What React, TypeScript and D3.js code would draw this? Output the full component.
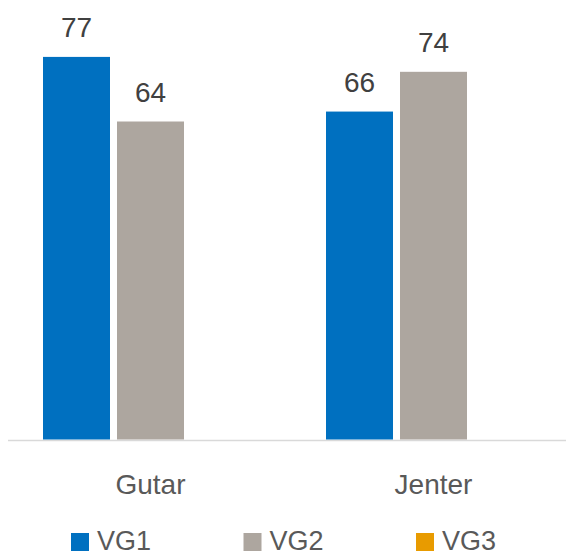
import React, { useEffect, useRef } from 'react';
import * as d3 from 'd3';

const categories = ['Gutar', 'Jenter'];
const seriesNames = ['VG1', 'VG2', 'VG3'];
const vg1 = [77, 66];
const vg2 = [64, 74];
const vg3: (number | null)[] = [null, null];
const seriesColors = ['#0070C0', '#ADA69F', '#E89B00'];

const width = 566;
const height = 554;

const App: React.FC = () => {
  const svgRef = useRef<SVGSVGElement>(null);

  useEffect(() => {
    if (!svgRef.current) return;
    const svg = d3.select(svgRef.current);
    svg.selectAll('*').remove();

    const font = '"Liberation Sans", Arial, sans-serif';
    const values = [vg1, vg2, vg3];
    const baseY = 439.5;

    const x0 = d3.scaleBand<string>()
      .domain(categories)
      .range([9, 575])
      .paddingInner(68 / 283)
      .paddingOuter(34 / 283);

    const x1 = d3.scaleBand<string>()
      .domain(seriesNames)
      .range([0, x0.bandwidth()])
      .paddingInner(7 / 74)
      .paddingOuter(0);

    const y = d3.scaleLinear().domain([0, 80]).range([baseY, baseY - 397.5]);

    // axis line
    svg.append('line')
      .attr('x1', 8)
      .attr('x2', width)
      .attr('y1', baseY + 1)
      .attr('y2', baseY + 1)
      .attr('stroke', '#d9d9d9')
      .attr('stroke-width', 1.5);

    // bars + labels
    categories.forEach((cat, ci) => {
      seriesNames.forEach((s, si) => {
        const v = values[si][ci];
        if (v == null) return;
        const bx = (x0(cat) ?? 0) + (x1(s) ?? 0);
        svg.append('rect')
          .attr('x', bx)
          .attr('y', y(v))
          .attr('width', x1.bandwidth())
          .attr('height', baseY - y(v))
          .attr('fill', seriesColors[si]);
        svg.append('text')
          .attr('x', bx + x1.bandwidth() / 2)
          .attr('y', y(v) - 20)
          .attr('text-anchor', 'middle')
          .attr('font-family', font)
          .attr('font-size', 28)
          .attr('fill', '#404040')
          .text(v);
      });
    });

    // category labels
    svg.append('g')
      .selectAll('text')
      .data(categories)
      .join('text')
      .attr('x', d => (x0(d) ?? 0) + x0.bandwidth() / 2)
      .attr('y', 494)
      .attr('text-anchor', 'middle')
      .attr('font-family', font)
      .attr('font-size', 28)
      .attr('fill', '#595959')
      .text(d => d);

    // legend
    const lx = d3.scaleBand<string>().domain(seriesNames).range([71, 71 + 3 * 172.5]);
    const leg = svg.append('g')
      .selectAll('g')
      .data(seriesNames)
      .join('g')
      .attr('transform', d => `translate(${lx(d)},0)`);
    leg.append('rect')
      .attr('x', 0)
      .attr('y', 533)
      .attr('width', 18)
      .attr('height', 18)
      .attr('fill', (_, i) => seriesColors[i]);
    leg.append('text')
      .attr('x', 26)
      .attr('y', 549.5)
      .attr('font-family', font)
      .attr('font-size', 27)
      .attr('fill', '#595959')
      .text(d => d);
  }, []);

  return (
    <svg
      ref={svgRef}
      width={width}
      height={height}
      style={{ position: 'absolute', left: 0, top: 0, background: '#fff' }}
    />
  );
};

export default App;
